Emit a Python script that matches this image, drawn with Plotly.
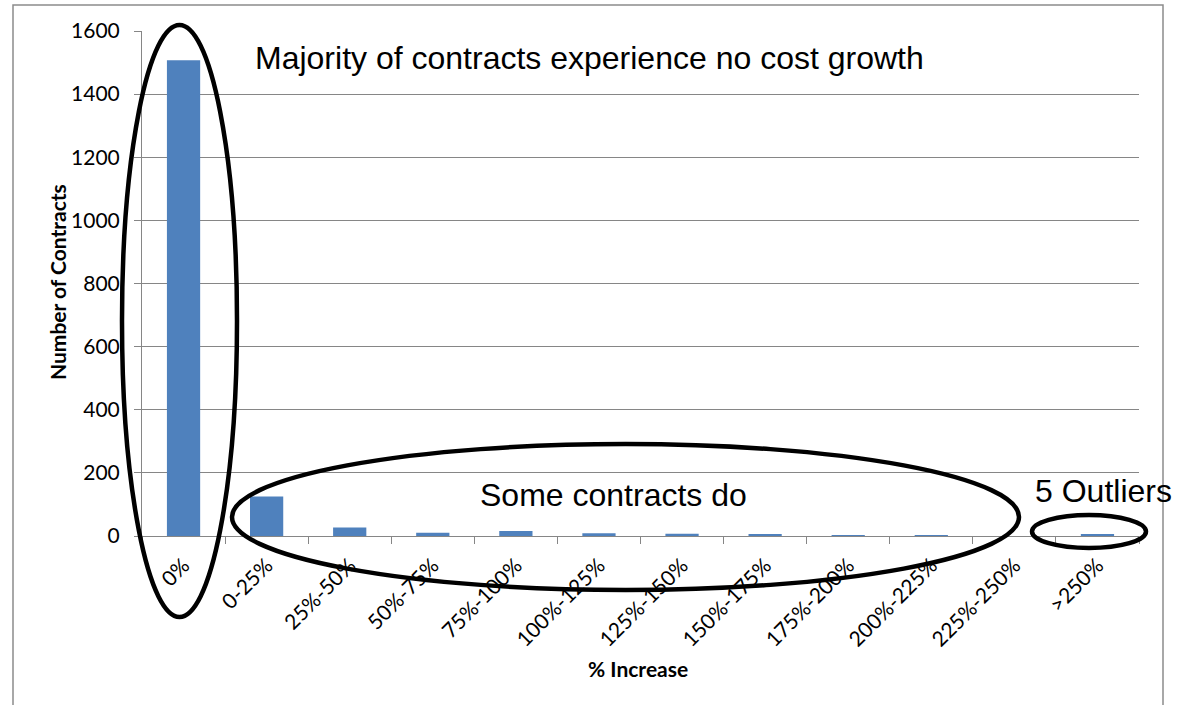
import plotly.graph_objects as go

# Contract cost growth distribution
categories = ["0%", "0-25%", "25%-50%", "50%-75%", "75%-100%", "100%-125%",
              "125%-150%", "150%-175%", "175%-200%", "200%-225%", "225%-250%", ">250%"]
contracts = [1507, 125, 27, 10, 16, 9, 7, 4, 2, 1, 0, 5]
y_ticks = [0, 200, 400, 600, 800, 1000, 1200, 1400, 1600]

W, H = 1188, 705
L, R, T, B = 142, 49, 31, 169
PW, PH = W - L - R, H - T - B


def px(x):
    return (x - L) / PW


def py(y):
    return (H - B - y) / PH


fig = go.Figure(
    go.Bar(
        x=categories,
        y=contracts,
        marker=dict(color="#4F81BD", line=dict(width=0)),
        width=0.4,
    )
)

ellipse = dict(type="circle", xref="paper", yref="paper", line=dict(color="black", width=4.5))
shapes = [
    # outer chart frame
    dict(type="rect", xref="paper", yref="paper", x0=px(13), x1=px(1163), y0=py(720), y1=py(5),
         line=dict(color="#8c8c8c", width=1.5), layer="below"),
    dict(ellipse, x0=px(122), x1=px(237), y0=py(617), y1=py(25)),
    dict(ellipse, x0=px(232), x1=px(1019), y0=py(590), y1=py(444)),
    dict(ellipse, x0=px(1032), x1=px(1146), y0=py(548), y1=py(515)),
]

note_font = dict(family="Liberation Sans", size=32, color="black")
annotations = [
    dict(text="Majority of contracts experience no cost growth", x=px(253), y=py(58),
         xanchor="left", yanchor="middle", font=note_font),
    dict(text="Some contracts do", x=px(478), y=py(495),
         xanchor="left", yanchor="middle", font=note_font),
    dict(text="5 Outliers", x=px(1033), y=py(491),
         xanchor="left", yanchor="middle", font=note_font),
    dict(text="<b>Number of Contracts</b>", x=px(57), y=py(282), textangle=-90,
         xanchor="center", yanchor="middle", font=dict(family="Lato", size=21, color="black")),
    dict(text="<b>% Increase</b>", x=px(638), y=py(668),
         xanchor="center", yanchor="middle", font=dict(family="Lato", size=21, color="black")),
]
for a in annotations:
    a.update(xref="paper", yref="paper", showarrow=False)

fig.update_layout(
    width=W, height=H,
    margin=dict(l=L, r=R, t=T, b=B),
    paper_bgcolor="white", plot_bgcolor="white",
    showlegend=False,
    bargap=0.6,
    shapes=shapes,
    annotations=annotations,
    font=dict(family="Lato", size=21, color="black"),
)
fig.update_xaxes(
    type="category",
    tickangle=-45,
    tickson="boundaries",
    ticks="outside", ticklen=7, tickcolor="#868686",
    showline=True, linecolor="#868686", linewidth=1,
    showgrid=False,
    ticklabelstandoff=8,
    tickfont=dict(family="Lato", size=21),
)
fig.update_yaxes(
    range=[0, 1600],
    tickvals=y_ticks,
    ticks="outside", ticklen=7, tickcolor="#868686",
    showline=True, linecolor="#868686", linewidth=1,
    showgrid=True, gridcolor="#868686", gridwidth=1,
    zeroline=False,
    ticklabelstandoff=10,
    tickfont=dict(family="Lato", size=21),
)

fig.write_html("out.html")
